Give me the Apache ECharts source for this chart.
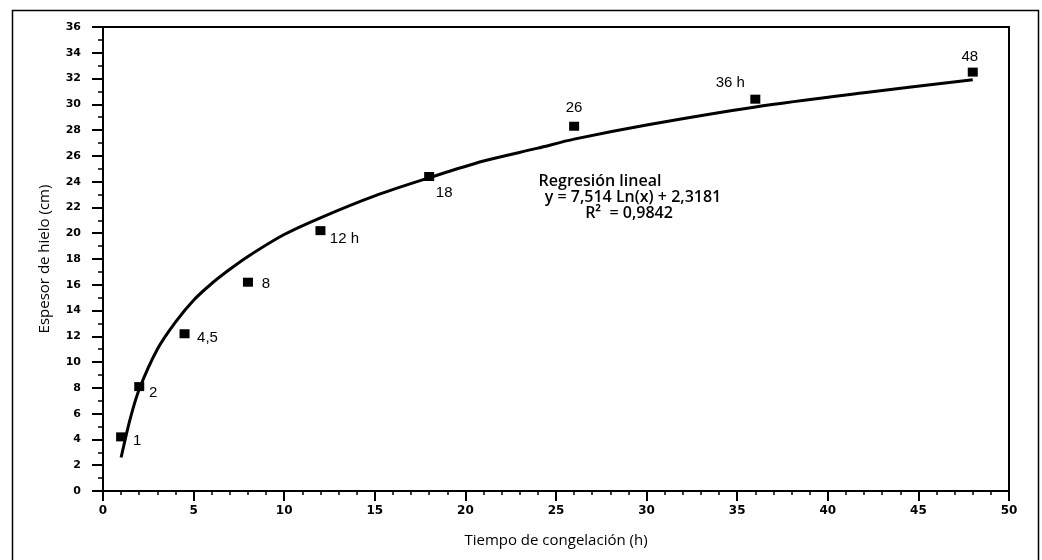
<!DOCTYPE html>
<html>
<head>
<meta charset="utf-8">
<script src="https://cdn.jsdelivr.net/npm/echarts@6/dist/echarts.min.js"></script>
<style>
html,body{margin:0;padding:0;background:#fff;}
#chart{width:1042px;height:560px;}
</style>
</head>
<body>
<div id="chart"></div>
<script>
// Measured points
const hours = [1, 2, 4.5, 8, 12, 18, 26, 36, 48];
const thickness = [4.2, 8.1, 12.2, 16.2, 20.2, 24.4, 28.3, 30.4, 32.5];
const pointLabels = ['1', '2', '4,5', '8', '12 h', '18', '26', '36 h', '48'];

// Fitted curve, values
const fitHours = [1, 1.5, 2, 3, 4, 5, 6, 7, 8, 10, 12, 15, 18, 21, 24, 26, 30, 36, 42, 48];
const fitThickness = [2.6, 5.6, 7.9, 11.0, 13.1, 14.8, 16.1, 17.2, 18.2, 19.9, 21.2, 22.9, 24.3, 25.6, 26.6, 27.3, 28.4, 29.8, 30.9, 31.9];

const regressionText = ['Regresión lineal', 'y = 7,514 Ln(x) + 2,3181', 'R²  = 0,9842'];
const xAxisTitle = 'Tiempo de congelación (h)';
const yAxisTitle = 'Espesor de hielo (cm)';

// label placement (style only)
const labelOffsets = [[16, 4], [14, 6], [23, 4], [18, 2], [24, 8], [15, 16], [0, -18], [-25, -16], [-3, -15]];

const chart = echarts.init(document.getElementById('chart'), null, {renderer: 'canvas'});

const scatterData = hours.map((h, i) => ({
  value: [h, thickness[i]],
  label: {show: true, formatter: pointLabels[i], position: 'inside', offset: labelOffsets[i]}
}));

const option = {
  backgroundColor: '#ffffff',
  animation: false,
  grid: {left: 103, right: 33, top: 27, bottom: 69, show: true, borderColor: '#000', borderWidth: 2, backgroundColor: 'transparent'},
  xAxis: {
    type: 'value', min: 0, max: 50, interval: 5,
    name: xAxisTitle, nameLocation: 'middle', nameGap: 42,
    nameTextStyle: {fontFamily: 'Open Sans', fontSize: 15, color: '#000'},
    axisLine: {show: true, onZero: false, lineStyle: {color: '#000', width: 2}},
    axisTick: {show: true, length: 10, lineStyle: {color: '#000', width: 2}},
    minorTick: {show: true, splitNumber: 5, length: 4, lineStyle: {color: '#000', width: 1.5}},
    axisLabel: {margin: 14, fontFamily: 'DejaVu Sans', fontWeight: 'bold', fontSize: 12, color: '#000'},
    splitLine: {show: false}
  },
  yAxis: {
    type: 'value', min: 0, max: 36, interval: 2,
    name: yAxisTitle, nameLocation: 'middle', nameGap: 51,
    nameTextStyle: {fontFamily: 'Open Sans', fontSize: 15, color: '#000'},
    axisLine: {show: true, onZero: false, lineStyle: {color: '#000', width: 2}},
    axisTick: {show: true, length: 11, lineStyle: {color: '#000', width: 2}},
    minorTick: {show: true, splitNumber: 2, length: 5, lineStyle: {color: '#000', width: 1.5}},
    axisLabel: {margin: 22, fontFamily: 'DejaVu Sans', fontWeight: 'bold', fontSize: 11, color: '#000'},
    splitLine: {show: false}
  },
  series: [
    {
      type: 'line',
      data: fitHours.map((h, i) => [h, fitThickness[i]]),
      smooth: 0.3,
      showSymbol: false,
      lineStyle: {color: '#000', width: 3},
      z: 2
    },
    {
      type: 'scatter',
      data: scatterData,
      symbol: 'rect',
      symbolSize: [10, 9],
      itemStyle: {color: '#000', opacity: 1},
      label: {color: '#000', fontFamily: 'Liberation Sans', fontSize: 15},
      z: 3
    }
  ],
  graphic: [
    {type: 'rect', left: 10, top: 8, shape: {width: 1026, height: 560}, style: {fill: 'none', stroke: '#000', lineWidth: 1.5}, silent: true},
    {type: 'text', x: 600, y: 181, style: {text: regressionText[0], font: '600 16px "Open Sans"', fill: '#000', textAlign: 'center', textVerticalAlign: 'middle'}},
    {type: 'text', x: 633, y: 197, style: {text: regressionText[1], font: '600 16px "Open Sans"', fill: '#000', textAlign: 'center', textVerticalAlign: 'middle'}},
    {type: 'text', x: 629, y: 213, style: {text: regressionText[2], font: '600 16px "Open Sans"', fill: '#000', textAlign: 'center', textVerticalAlign: 'middle'}}
  ]
};
chart.setOption(option);
</script>
</body>
</html>
